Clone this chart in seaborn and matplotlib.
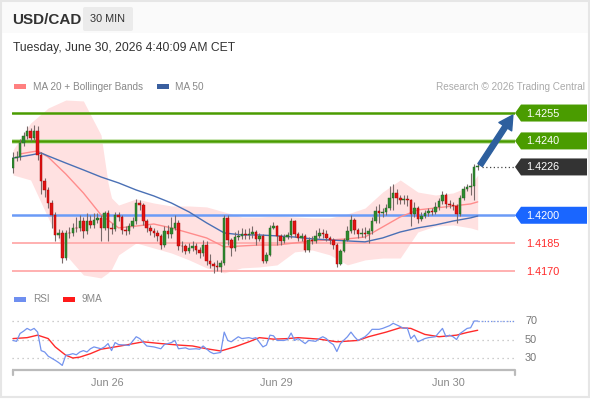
import numpy as np
import matplotlib
matplotlib.use("Agg")
import matplotlib.pyplot as plt
from matplotlib.patches import Polygon, FancyBboxPatch, Rectangle
import seaborn as sns

# ---------------- data ----------------
first_open = 1.42254
closes = [
    1.42308, 1.42313, 1.42389, 1.42426, 1.42453, 1.42416, 1.42453, 1.42324, 1.42184, 1.42136,
    1.42066, 1.42002, 1.41894, 1.41905, 1.41770, 1.41905, 1.41902, 1.41932, 1.41930, 1.41969,
    1.41916, 1.41969, 1.41948, 1.41975, 1.41986, 1.41932, 1.42012, 1.41932, 1.41928, 1.42002,
    1.41991, 1.41921, 1.41918, 1.41942, 1.41969, 1.42066, 1.42055, 1.41969, 1.41932, 1.41916,
    1.41905, 1.41889, 1.41840, 1.41916, 1.41899, 1.41932, 1.41959, 1.41835, 1.41832, 1.41808,
    1.41824, 1.41835, 1.41813, 1.41797, 1.41840, 1.41754, 1.41738, 1.41727, 1.41724, 1.41744,
    1.41986, 1.41867, 1.41824, 1.41883, 1.41889, 1.41899, 1.41894, 1.41899, 1.41910, 1.41873,
    1.41889, 1.41754, 1.41787, 1.41932, 1.41942, 1.41889, 1.41862, 1.41883, 1.41894, 1.41969,
    1.41899, 1.41878, 1.41889, 1.41813, 1.41867, 1.41864, 1.41889, 1.41905, 1.41899, 1.41878,
    1.41867, 1.41840, 1.41738, 1.41808, 1.41867, 1.41916, 1.41975, 1.41921, 1.41899, 1.41905,
    1.41899, 1.41916, 1.41969, 1.42023, 1.42012, 1.42018, 1.42039, 1.42093, 1.42120, 1.42093,
    1.42082, 1.42088, 1.42082, 1.42007, 1.42039, 1.41980, 1.41996, 1.42012, 1.42023, 1.42018,
    1.42045, 1.42077, 1.42109, 1.42061, 1.42055, 1.42050, 1.42007, 1.42093, 1.42141, 1.42152,
    1.42158, 1.42260, 1.42265]
highs = [
    1.42340, 1.42346, 1.42410, 1.42450, 1.42480, 1.42470, 1.42485, 1.42480, 1.42340, 1.42200,
    1.42150, 1.42080, 1.42020, 1.41925, 1.41920, 1.41920, 1.41935, 1.41960, 1.41990, 1.42000,
    1.41990, 1.42010, 1.42000, 1.42010, 1.42010, 1.42000, 1.42025, 1.42030, 1.41960, 1.42015,
    1.42020, 1.42000, 1.41940, 1.41960, 1.41990, 1.42090, 1.42080, 1.42065, 1.41980, 1.41945,
    1.41930, 1.41920, 1.41900, 1.41940, 1.41950, 1.41990, 1.42000, 1.41975, 1.41860, 1.41845,
    1.41850, 1.41860, 1.41850, 1.41830, 1.41867, 1.41860, 1.41790, 1.41750, 1.41760, 1.41760,
    1.42000, 1.42000, 1.41880, 1.41910, 1.41920, 1.41930, 1.41925, 1.41930, 1.41940, 1.41920,
    1.41905, 1.41900, 1.41800, 1.41945, 1.41965, 1.41950, 1.41900, 1.41900, 1.41910, 1.41985,
    1.41975, 1.41910, 1.41905, 1.41900, 1.41885, 1.41890, 1.41920, 1.41930, 1.41925, 1.41920,
    1.41890, 1.41880, 1.41850, 1.41820, 1.41880, 1.41940, 1.42000, 1.41985, 1.41930, 1.41930,
    1.41935, 1.41930, 1.41990, 1.42050, 1.42060, 1.42040, 1.42060, 1.42160, 1.42170, 1.42140,
    1.42110, 1.42110, 1.42110, 1.42090, 1.42070, 1.42050, 1.42020, 1.42030, 1.42040, 1.42040,
    1.42070, 1.42095, 1.42130, 1.42120, 1.42080, 1.42070, 1.42060, 1.42110, 1.42160, 1.42170,
    1.42230, 1.42275, 1.42285]
lows = [
    1.42230, 1.42290, 1.42300, 1.42375, 1.42410, 1.42400, 1.42405, 1.42300, 1.42115, 1.42100,
    1.42040, 1.41930, 1.41860, 1.41880, 1.41745, 1.41760, 1.41880, 1.41890, 1.41910, 1.41915,
    1.41880, 1.41900, 1.41930, 1.41930, 1.41960, 1.41860, 1.41920, 1.41860, 1.41900, 1.41915,
    1.41970, 1.41900, 1.41895, 1.41900, 1.41930, 1.41955, 1.42030, 1.41950, 1.41910, 1.41895,
    1.41885, 1.41860, 1.41820, 1.41830, 1.41880, 1.41880, 1.41920, 1.41815, 1.41800, 1.41790,
    1.41795, 1.41810, 1.41790, 1.41770, 1.41780, 1.41735, 1.41715, 1.41690, 1.41700, 1.41695,
    1.41735, 1.41840, 1.41780, 1.41810, 1.41865, 1.41870, 1.41870, 1.41875, 1.41880, 1.41840,
    1.41860, 1.41745, 1.41745, 1.41780, 1.41925, 1.41840, 1.41840, 1.41850, 1.41870, 1.41880,
    1.41885, 1.41860, 1.41860, 1.41800, 1.41800, 1.41845, 1.41850, 1.41880, 1.41880, 1.41860,
    1.41845, 1.41820, 1.41720, 1.41730, 1.41800, 1.41860, 1.41905, 1.41900, 1.41880, 1.41885,
    1.41880, 1.41850, 1.41900, 1.41960, 1.41960, 1.41990, 1.42000, 1.42030, 1.42030, 1.42060,
    1.42060, 1.42060, 1.42050, 1.41940, 1.41990, 1.41960, 1.41970, 1.41985, 1.41995, 1.42000,
    1.42005, 1.42030, 1.42060, 1.42040, 1.42040, 1.42030, 1.41960, 1.41995, 1.42080, 1.42130,
    1.42110, 1.42080, 1.42245]

band_idx = [0, 5, 10, 15, 20, 25, 27, 28, 30, 35, 40, 45, 50, 55, 60, 65, 70, 75, 80, 85,
            90, 95, 100, 105, 110, 115, 120, 125, 130, 132]
band_upper = [1.42351, 1.42496, 1.42577, 1.42620, 1.42615, 1.42432, 1.42174, 1.42093, 1.42055,
              1.42088, 1.42066, 1.42050, 1.42050, 1.42045, 1.42018, 1.41991, 1.41991, 1.41996,
              1.41991, 1.41986, 1.41986, 1.42007, 1.42039, 1.42125, 1.42190, 1.42125, 1.42109,
              1.42120, 1.42158, 1.42217]
band_lower = [1.42217, 1.42190, 1.41986, 1.41787, 1.41679, 1.41663, 1.41690, 1.41710, 1.41787,
              1.41851, 1.41824, 1.41797, 1.41760, 1.41717, 1.41690, 1.41717, 1.41722, 1.41733,
              1.41803, 1.41813, 1.41787, 1.41733, 1.41760, 1.41770, 1.41770, 1.41910, 1.41942,
              1.41948, 1.41932, 1.41921]

ma20_idx = [2, 5, 7, 10, 15, 20, 25, 30, 35, 40, 45, 50, 55, 60, 65, 70, 75, 80, 85, 90,
            95, 100, 105, 110, 115, 120, 125, 130, 132]
ma20 = [1.42330, 1.42340, 1.42346, 1.42313, 1.42222, 1.42120, 1.42002, 1.41932, 1.41942, 1.41953,
        1.41932, 1.41905, 1.41878, 1.41830, 1.41835, 1.41840, 1.41840, 1.41851, 1.41862, 1.41867,
        1.41873, 1.41883, 1.41937, 1.41991, 1.42029, 1.42039, 1.42050, 1.42061, 1.42072]

ma50_idx = [0, 5, 8, 10, 15, 20, 25, 30, 35, 40, 45, 50, 55, 60, 65, 70, 75, 80, 85, 90,
            95, 100, 105, 110, 115, 120, 125, 130, 132]
ma50 = [1.42308, 1.42324, 1.42335, 1.42319, 1.42281, 1.42244, 1.42206, 1.42174, 1.42136, 1.42104,
        1.42066, 1.42018, 1.41959, 1.41905, 1.41894, 1.41894, 1.41889, 1.41883, 1.41873, 1.41867,
        1.41862, 1.41857, 1.41878, 1.41910, 1.41932, 1.41948, 1.41969, 1.41986, 1.41996]

rsi_idx = [0, 1, 2, 3, 4, 5, 6, 7, 8, 9, 10, 12, 13, 14, 15, 16, 17, 18, 19, 20, 21, 22, 23,
           25, 26, 27, 28, 29, 30, 32, 33, 35, 36, 38, 40, 42, 43, 45, 46, 47, 49, 50, 52, 53,
           54, 56, 57, 59, 60, 61, 62, 64, 65, 67, 68, 69, 71, 72, 73, 74, 75, 77, 78, 79, 80,
           81, 83, 84, 86, 87, 88, 89, 90, 91, 92, 93, 95, 96, 97, 98, 100, 101, 102, 104, 105,
           107, 108, 110, 111, 112, 113, 114, 115, 117, 118, 120, 121, 122, 123, 124, 125, 126,
           127, 129, 130, 131, 132]
rsi = [49, 48, 56.5, 59, 62, 60, 62, 58, 38, 36.5, 32, 27.5, 25, 22, 33, 33.6, 34.7, 33.5, 36.5,
       38, 36.5, 40, 42, 40, 42, 45.6, 38, 46.7, 44.5, 44, 43.5, 53, 51, 43, 42, 40, 44.5, 46.7,
       49, 40, 41, 39.5, 40, 39.5, 43, 36.5, 34.7, 36, 58, 49, 47.5, 53, 51, 52, 51, 52, 42, 44,
       54.7, 54, 49, 49, 50, 57, 49, 51, 45.6, 49, 48, 51, 53, 51, 47, 44.5, 37, 45.6, 53, 58,
       53, 49, 53, 56.5, 61, 61, 62, 65, 67.5, 64, 62, 62.5, 51, 54.7, 47.5, 51, 52, 53, 57.6,
       62, 53, 54.7, 53, 50, 56.5, 62, 62.7, 70, 70]

rsi_ma_idx = [0, 4, 7, 10, 12, 15, 17, 19, 22, 25, 29, 32, 37, 42, 47, 51, 55, 59, 63, 67, 70,
              74, 78, 81, 87, 92, 98, 101, 106, 110, 113, 117, 121, 126, 129, 132]
rsi_ma = [51, 52, 54.7, 51, 42, 33, 30, 31, 34.7, 39.5, 42, 44, 47.5, 45.6, 44, 43, 40, 37.6, 42,
          47.5, 52, 50.4, 51, 52, 50.4, 47.5, 49, 53, 58, 62.7, 62, 55.5, 53, 54.7, 57.6, 60]

resistance_levels = [1.4255, 1.4240]
pivot_level = 1.4200
support_levels = [1.4185, 1.4170]
last_price = 1.4226
rsi_levels = [30, 50, 70]
tick_pos = [26.8, 74.9, 123.6]
tick_labels = ["Jun 26", "Jun 29", "Jun 30"]

# ---------------- style ----------------
sns.set_theme(style="white")
plt.rcParams['font.family'] = ['Liberation Sans', 'DejaVu Sans']

W, H = 590, 400
fig = plt.figure(figsize=(W / 100, H / 100), dpi=100)
fig.patch.set_facecolor('white')

XL = (-0.28, 142.6)
px_left, px_right = 12, 515


def fig_box(top_px, bottom_px):
    return [px_left / W, 1 - bottom_px / H, (px_right - px_left) / W, (bottom_px - top_px) / H]


ax = fig.add_axes(fig_box(95, 282))
ax_rsi = fig.add_axes(fig_box(305, 368))
ov = fig.add_axes([0, 0, 1, 1], zorder=-1)
ov.set_xlim(0, W)
ov.set_ylim(H, 0)
ov.axis('off')
ov_top = fig.add_axes([0, 0, 1, 1], zorder=10)
ov_top.set_xlim(0, W)
ov_top.set_ylim(H, 0)
ov_top.axis('off')
ov_top.patch.set_alpha(0)

for a in (ax, ax_rsi):
    a.set_xlim(*XL)
    a.patch.set_alpha(0)
    for s in a.spines.values():
        s.set_visible(False)
    a.set_xticks([])
    a.set_yticks([])
    a.set_xlabel('')
    a.set_ylabel('')

ax.set_ylim(1.41641, 1.42647)
ax_rsi.set_ylim(19.2, 87.3)

# ---------------- price panel ----------------
n = len(closes)
xs = np.arange(n)
c = np.array(closes)
o = np.array([first_open] + closes[:-1])
up = c >= o

ax.fill_between(band_idx, band_lower, band_upper, color='#ffe1e1', lw=0, zorder=1)
sns.lineplot(x=ma20_idx, y=ma20, ax=ax, color='#ff8c8c', linewidth=1.0, zorder=2, legend=False)
sns.lineplot(x=ma50_idx, y=ma50, ax=ax, color='#4a70b5', linewidth=1.0, zorder=2, legend=False)

ax.axhline(resistance_levels[0], color='#4a9c00', lw=1.8, zorder=1.6)
ax.axhline(resistance_levels[1], color='#c4e3ad', lw=3.4, zorder=1.5)
ax.axhline(resistance_levels[1], color='#4a9c00', lw=1.8, zorder=1.6)
ax.axhline(pivot_level, color='#6b9bf7', lw=1.8, zorder=1.6)
for lvl in support_levels:
    ax.axhline(lvl, color='#ffb0b0', lw=1.4, zorder=1.6)

ax.vlines(xs, lows, highs, color='#7a6a6a', lw=0.8, zorder=3)
body = np.maximum(np.abs(c - o), 0.00002)
ax.bar(xs, body, bottom=np.minimum(o, c), width=0.72,
       color=np.where(up, '#2f8a2f', '#e01414'),
       edgecolor=np.where(up, '#1f5f1f', '#a50000'), linewidth=0.3, zorder=4)

ax.hlines(last_price, n + 0.2, XL[1], colors='#444444', linestyles=(0, (1, 2)), lw=0.9, zorder=3)

ax.annotate('', xy=(142.0, 1.42539), xytext=(132.7, 1.42270),
            arrowprops=dict(arrowstyle='simple,head_length=1.0,head_width=1.1,tail_width=0.38',
                            color='#2d5f9e', mutation_scale=10, shrinkA=0, shrinkB=0),
            annotation_clip=False, zorder=6)


def price_px(a, val):
    return H - a.transData.transform((0, val))[1]


def tag(val, text, face=None, txt='white'):
    y = price_px(ax, val)
    if face is not None:
        pts = [(515, y), (521, y - 8.5), (587, y - 8.5), (587, y + 8.5), (521, y + 8.5)]
        ov_top.add_patch(Polygon(pts, closed=True, facecolor=face, edgecolor='none'))
    ov_top.text(526, y + 0.5, text, color=txt, fontsize=7.8, va='center', ha='left')


tag(resistance_levels[0], '1.4255', '#4a9c00')
tag(resistance_levels[1], '1.4240', '#4a9c00')
tag(last_price, '1.4226', '#333333')
tag(pivot_level, '1.4200', '#1a66ff')
tag(support_levels[0], '1.4185', None, '#ff2a2a')
tag(support_levels[1], '1.4170', None, '#ff2a2a')

# ---------------- RSI panel ----------------
for lvl in rsi_levels:
    ax_rsi.axhline(lvl, color='#bdbdbd', lw=0.9, linestyle=(0, (1, 3)), zorder=1)
    ov_top.text(525, price_px(ax_rsi, lvl), str(lvl), color='#777777', fontsize=7.8,
                va='center', ha='left')
sns.lineplot(x=rsi_idx, y=rsi, ax=ax_rsi, color='#7393ee', linewidth=0.9, zorder=3, legend=False)
sns.lineplot(x=rsi_ma_idx, y=rsi_ma, ax=ax_rsi, color='#ff2a2a', linewidth=1.0, zorder=2, legend=False)
ax_rsi.hlines(rsi[-1], rsi_idx[-1], XL[1], colors='#7393ee', linestyles=(0, (1, 1.5)), lw=0.9)

# time axis
ov_top.plot([12, 515], [370, 370], color='#bbbbbb', lw=1.6, solid_capstyle='butt')
ov_top.plot([12.8, 12.8], [370, 375], color='#bbbbbb', lw=1.6)
ov_top.plot([515.2, 515.2], [370, 375], color='#bbbbbb', lw=1.6)
for p, lab in zip(tick_pos, tick_labels):
    xp = ax_rsi.transData.transform((p, 0))[0]
    ov_top.text(xp, 382.5, lab, color='#888888', fontsize=7.8, ha='center', va='center')

# ---------------- header and legends ----------------
ov.add_patch(Rectangle((0, 0), W, 33, facecolor='#fafafa', edgecolor='none'))
ov.add_patch(Rectangle((0.8, 0.8), W - 1.6, H - 3.5, facecolor='none', edgecolor='#e6e6e6', lw=1.5))
ov_top.text(12, 19.5, 'USD/CAD', fontsize=11, fontweight='bold', color='#333333', va='center')
ov.add_patch(FancyBboxPatch((83, 7), 50, 24, boxstyle='round,pad=0,rounding_size=2',
                            facecolor='#ebebeb', edgecolor='none'))
ov_top.text(108, 19.5, '30 MIN', fontsize=7.8, color='#333333', ha='center', va='center')
ov_top.text(13, 48, 'Tuesday, June 30, 2026 4:40:09 AM CET', fontsize=8.7, color='#333333',
            va='center')

ov_top.add_patch(Rectangle((14, 83.5), 12, 5, facecolor='#ff8080', edgecolor='none'))
ov_top.text(33, 86.5, 'MA 20 + Bollinger Bands', fontsize=7.2, color='#888888', va='center')
ov_top.add_patch(Rectangle((157, 83.5), 12, 5, facecolor='#3a5f9f', edgecolor='none'))
ov_top.text(175, 86.5, 'MA 50', fontsize=7.2, color='#888888', va='center')
ov_top.text(585, 86.5, 'Research \u00a9 2026 Trading Central', fontsize=7.2, color='#aaaaaa',
            va='center', ha='right')

ov_top.add_patch(Rectangle((14, 297), 12, 5, facecolor='#6f8ff0', edgecolor='none'))
ov_top.text(33, 299.5, 'RSI', fontsize=7.2, color='#888888', va='center')
ov_top.add_patch(Rectangle((63, 297), 12, 5, facecolor='#ff1a1a', edgecolor='none'))
ov_top.text(82, 299.5, '9MA', fontsize=7.2, color='#888888', va='center')

fig.savefig('out.png', dpi=100)
